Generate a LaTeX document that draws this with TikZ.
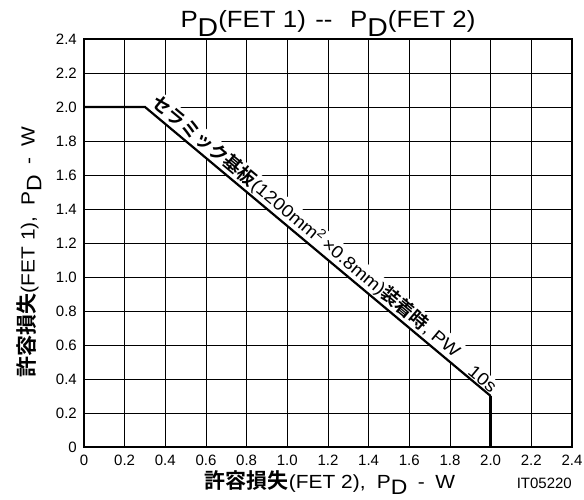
\documentclass[tikz,border=0pt]{standalone}
\usepackage{fontspec}
\setmainfont{Liberation Sans}
\newfontfamily\wide{Liberation Sans}[FakeStretch=1.1]
\newfontfamily\jp{Noto Sans CJK JP}[BoldFont={Noto Sans CJK JP Bold}]
\usetikzlibrary{calc,positioning}

% subscript D as printed in the chart
\newcommand{\subD}{\raisebox{-0.36em}{\scalebox{1.1}{D}}}
% bold Japanese words
\newcommand{\jpb}[1]{{\jp\bfseries\fontsize{18.5}{19}\selectfont #1}}
\newcommand{\jpl}[1]{{\jp\bfseries\fontsize{21}{21}\selectfont #1}}

\begin{document}
\begin{tikzpicture}[x=203.33pt,y=170pt,
                    grid line/.style={draw=black,line width=0.9pt},
                    frame line/.style={draw=black,line width=1.4pt},
                    curve line/.style={draw=black,line width=2.2pt,line join=miter},
                    tick label/.style={font=\fontsize{15}{15}\selectfont,inner sep=0pt},
                    axis label/.style={font=\wide\fontsize{19}{19}\selectfont,inner sep=0pt},
                    curve label/.style={font=\wide\fontsize{17.5}{17.5}\selectfont,fill=white,inner sep=1.2pt}]

  \useasboundingbox (-84pt,-52pt) rectangle (500pt,447pt);

  % grid
  \foreach \i in {1,...,11}
    \draw[grid line] (\i*0.2,0) -- (\i*0.2,2.4);
  \foreach \i in {1,...,11}
    \draw[grid line] (0,\i*0.2) -- (2.4,\i*0.2);
  \draw[frame line] (0,0) rectangle (2.4,2.4);

  % tick labels
  \foreach \v [count=\i] in {0,0.2,0.4,0.6,0.8,1.0,1.2,1.4,1.6,1.8,2.0,2.2,2.4} {
    \node[tick label,anchor=base] (xt\i) at ($(\i*0.2-0.2,0)+(0,-18pt)$) {\v};
    \node[tick label,anchor=east] (yt\i) at ($(0,\i*0.2-0.2)+(-7pt,0)$) {\v};
  }

  % curve
  \coordinate (p1) at (0,2.0);
  \coordinate (p2) at (0.3,2.0);
  \coordinate (p3) at (2.0,0.3);
  \coordinate (p4) at (2.0,0);

  \path (p2) -- (p3)
    node[curve label,sloped,above=0.5pt,pos=0.445] (cond)
      {\jpb{セラミック基板}(1200mm\textsuperscript{2}\,×0.8mm)\jpb{装着時}, PW}
    node[curve label,sloped,above=0.5pt,pos=0.962] (pw) {10s};
  \draw[curve line] (p1) -- (p2) -- (p3);
  \draw[curve line,line width=3pt] (p3) -- (p4);

  % titles
  \node[anchor=base,font=\wide\fontsize{23.5}{24}\selectfont,inner sep=0pt] (title)
    at ($(1.2,2.4)+(0,11pt)$) {P\subD(FET 1)\hspace{0.4em}-{}-\hspace{0.75em}P\subD(FET 2)};
  \node[axis label,anchor=base] (xlabel) at ($(1.21,0)+(0,-41pt)$)
    {\jpl{許容損失}(FET 2),\hspace{0.6em}P\subD\hspace{0.55em}-\hspace{0.55em}W};
  \node[axis label,rotate=90] (ylabel) at ($(0,1.147)+(-55pt,0)$)
    {\jpl{許容損失}(FET 1),\hspace{0.6em}P\subD\hspace{0.55em}-\hspace{0.55em}W};
  \node[anchor=base east,font=\fontsize{15}{15}\selectfont,inner sep=0pt] (code)
    at ($(2.4,0)+(0,-41pt)$) {IT05220};

\end{tikzpicture}
\end{document}
